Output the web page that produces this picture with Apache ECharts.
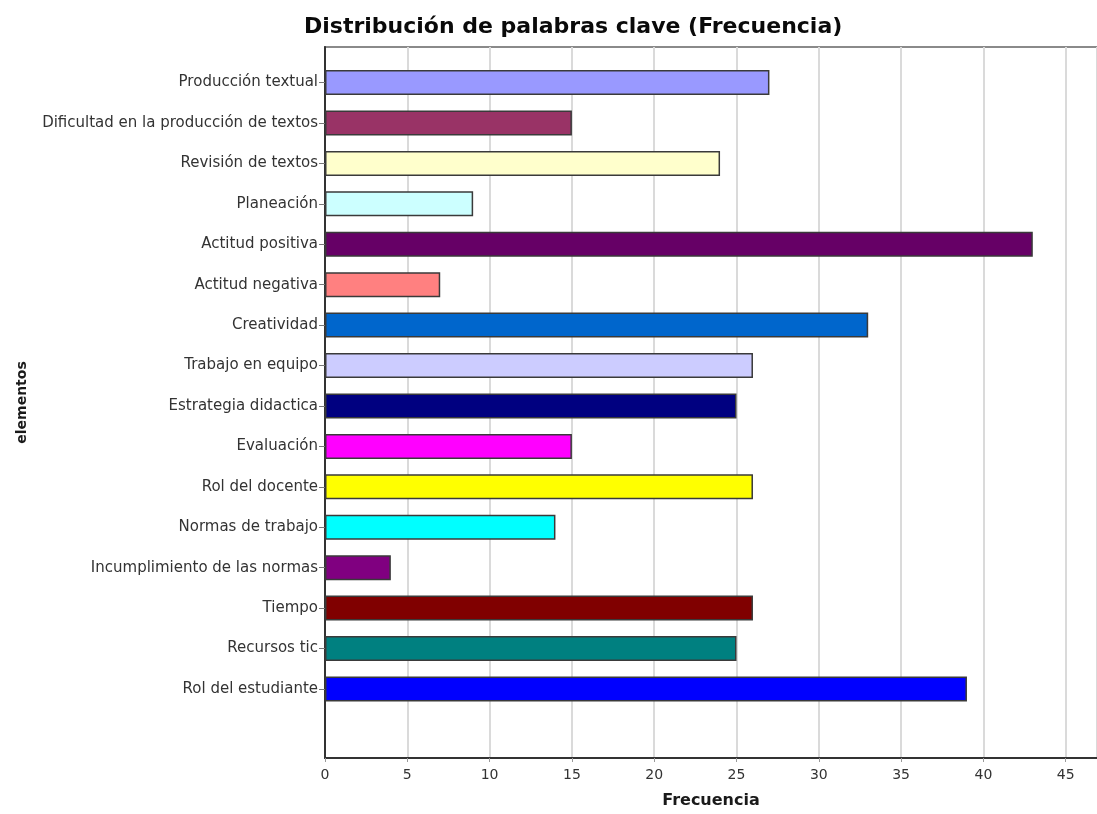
<!DOCTYPE html>
<html>
<head>
<meta charset="utf-8">
<title>Distribución de palabras clave</title>
<script src="https://cdn.jsdelivr.net/npm/echarts@6/dist/echarts.min.js"></script>
<style>
  html, body { margin: 0; padding: 0; background: #ffffff; }
  #chart { width: 1097px; height: 814px; }
</style>
</head>
<body>
<div id="chart"></div>
<script>
// Keyword categories, listed top to bottom
const categories = [
  'Producción textual',
  'Dificultad en la producción de textos',
  'Revisión de textos',
  'Planeación',
  'Actitud positiva',
  'Actitud negativa',
  'Creatividad',
  'Trabajo en equipo',
  'Estrategia didactica',
  'Evaluación',
  'Rol del docente',
  'Normas de trabajo',
  'Incumplimiento de las normas',
  'Tiempo',
  'Recursos tic',
  'Rol del estudiante'
];

// Frequency of each keyword
const frequencies = [27, 15, 24, 9, 43, 7, 33, 26, 25, 15, 26, 14, 4, 26, 25, 39];

// One fill colour per bar
const barColors = [
  '#9999ff', '#993366', '#ffffcc', '#ccffff', '#660066', '#ff8080',
  '#0066cc', '#ccccff', '#000080', '#ff00ff', '#ffff00', '#00ffff',
  '#800080', '#800000', '#008080', '#0000ff'
];

// Frequency axis range and tick step
const freqMin = 0;
const freqMax = 46.9;
const freqStep = 5;

const FONT = 'DejaVu Sans';

const chart = echarts.init(document.getElementById('chart'), null, { renderer: 'canvas' });

chart.setOption({
  backgroundColor: '#ffffff',
  animation: false,
  title: {
    text: 'Distribución de palabras clave (Frecuencia)',
    left: 299,
    top: 11,
    textStyle: { fontFamily: FONT, fontSize: 22, fontWeight: 'bold', color: '#0a0a0a' }
  },
  grid: [
    // plot frame: frequency axis, grid lines, outer border
    { left: 325, right: -2, top: 47, bottom: 56, show: true, borderColor: '#8a8a8a', borderWidth: 2, containLabel: false },
    // category band holding the bars
    { left: 325, right: -2, top: 62.3, height: 646.9, containLabel: false }
  ],
  xAxis: [
    {
      gridIndex: 0,
      type: 'value',
      min: freqMin,
      max: freqMax,
      interval: freqStep,
      name: 'Frecuencia',
      nameLocation: 'middle',
      nameGap: 35,
      nameTextStyle: { fontFamily: FONT, fontSize: 16, fontWeight: 'bold', color: '#1a1a1a' },
      axisLine: { show: true, lineStyle: { color: '#333333', width: 2 } },
      axisTick: { show: true, length: 4, lineStyle: { color: '#999999' } },
      axisLabel: { fontFamily: FONT, fontSize: 14, color: '#333333', margin: 10, showMaxLabel: false },
      splitLine: { show: true, lineStyle: { color: '#dadada', width: 2 } }
    },
    {
      gridIndex: 1,
      type: 'value',
      min: freqMin,
      max: freqMax,
      show: false
    }
  ],
  yAxis: [
    {
      gridIndex: 0,
      type: 'value',
      min: 0,
      max: 1,
      name: 'elementos',
      nameLocation: 'middle',
      nameGap: 296,
      nameRotate: 90,
      nameTextStyle: { fontFamily: FONT, fontSize: 14, fontWeight: 'bold', color: '#1a1a1a' },
      axisLine: { show: true, lineStyle: { color: '#333333', width: 2 } },
      axisTick: { show: false },
      axisLabel: { show: false },
      splitLine: { show: false }
    },
    {
      gridIndex: 1,
      type: 'category',
      inverse: true,
      data: categories,
      axisLine: { show: false },
      axisTick: { show: true, length: 6, alignWithLabel: true, lineStyle: { color: '#777777' } },
      axisLabel: { fontFamily: FONT, fontSize: 15, color: '#333333', margin: 7 },
      splitLine: { show: false }
    }
  ],
  series: [
    {
      type: 'bar',
      xAxisIndex: 1,
      yAxisIndex: 1,
      barWidth: 25,
      data: frequencies.map((v, i) => ({
        value: v,
        itemStyle: { color: barColors[i] }
      })),
      itemStyle: { borderColor: '#3a3a3a', borderWidth: 1.5 }
    }
  ]
});
</script>
</body>
</html>
